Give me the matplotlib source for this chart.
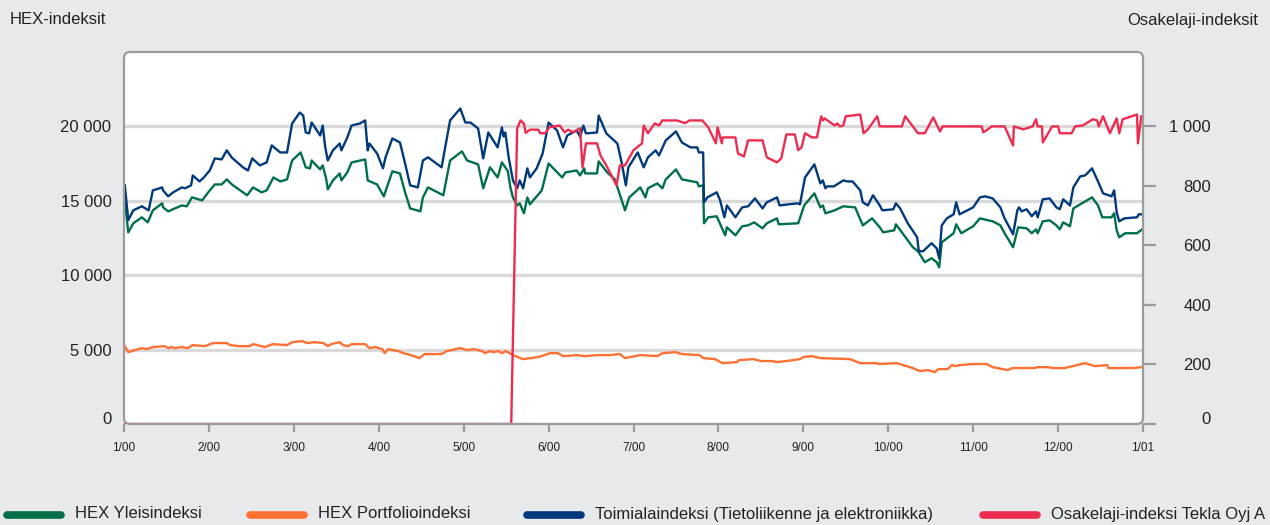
import matplotlib
matplotlib.use("Agg")
import matplotlib.pyplot as plt
from matplotlib.patches import FancyBboxPatch
from matplotlib.lines import Line2D

plt.rcParams['font.family'] = ['Liberation Sans', 'DejaVu Sans']

# x = months since 1 Jan 2000
month_labels = ["1/00", "2/00", "3/00", "4/00", "5/00", "6/00", "7/00",
                "8/00", "9/00", "10/00", "11/00", "12/00", "1/01"]
left_ticks = [0, 5000, 10000, 15000, 20000]
left_labels = ["0", "5 000", "10 000", "15 000", "20 000"]
right_ticks = [0, 200, 400, 600, 800, 1000]
right_labels = ["0", "200", "400", "600", "800", "1 000"]

series_names = ["HEX Yleisindeksi", "HEX Portfolioindeksi",
                "Toimialaindeksi (Tietoliikenne ja elektroniikka)",
                "Osakelaji-indeksi Tekla Oyj A"]
colors = ["#00704a", "#ff7033", "#003a7d", "#ee2c50"]

yleis_m = [0.01, 0.05, 0.11, 0.21, 0.28, 0.34, 0.45, 0.46, 0.52, 0.68, 0.74, 0.80, 0.92, 1.01, 1.07,
           1.15, 1.21, 1.27, 1.45, 1.52, 1.62, 1.68, 1.76, 1.84, 1.92, 1.98, 2.08, 2.14, 2.19, 2.21,
           2.31, 2.34, 2.38, 2.40, 2.46, 2.54, 2.56, 2.63, 2.68, 2.84, 2.87, 2.98, 3.06, 3.16, 3.25,
           3.31, 3.37, 3.49, 3.52, 3.58, 3.76, 3.84, 3.98, 4.04, 4.17, 4.23, 4.31, 4.40, 4.45, 4.49,
           4.52, 4.55, 4.58, 4.63, 4.66, 4.71, 4.75, 4.78, 4.92, 5.00, 5.16, 5.20, 5.33, 5.37, 5.42,
           5.43, 5.57, 5.59, 5.69, 5.78, 5.90, 5.95, 6.08, 6.14, 6.17, 6.28, 6.34, 6.38, 6.50, 6.57,
           6.75, 6.77, 6.82, 6.83, 6.88, 6.98, 7.08, 7.10, 7.20, 7.28, 7.35, 7.42, 7.52, 7.57, 7.69,
           7.71, 7.94, 8.01, 8.13, 8.20, 8.23, 8.26, 8.37, 8.47, 8.61, 8.70, 8.81, 8.90, 8.94, 9.07,
           9.09, 9.29, 9.35, 9.43, 9.51, 9.57, 9.60, 9.63, 9.77, 9.80, 9.86, 10.00, 10.08, 10.23,
           10.32, 10.37, 10.47, 10.53, 10.63, 10.69, 10.74, 10.76, 10.82, 10.90, 10.98, 11.02, 11.06,
           11.14, 11.18, 11.26, 11.40, 11.47, 11.52, 11.63, 11.66, 11.69, 11.72, 11.79, 11.93, 11.99]
yleis = [15030, 12880, 13490, 13890, 13550, 14360, 14830, 14560, 14290, 14690, 14630, 15230, 15030,
         15700, 16100, 16100, 16440, 16100, 15370, 15900, 15570, 15700, 16570, 16300, 16440, 17710,
         18250, 17250, 17180, 17710, 17110, 17380, 16500, 15770, 16370, 16840, 16370, 16910, 17580,
         17780, 16370, 16100, 15300, 16980, 16840, 15570, 14490, 14290, 15230, 15900, 15370, 17710,
         18320, 17710, 17450, 15840, 17250, 16570, 17580, 17250, 17000, 15900, 15230, 14690, 14830,
         14160, 15230, 14760, 15700, 17510, 16570, 16910, 17040, 16710, 17180, 16840, 16840, 17650,
         16910, 16440, 14360, 15230, 15900, 15230, 15840, 16170, 15840, 16440, 17110, 16440, 16240,
         15970, 16040, 13490, 13890, 13960, 12680, 13220, 12680, 13290, 13350, 13550, 13150, 13490,
         13820, 13420, 13490, 14690, 15500, 14560, 14690, 14160, 14360, 14630, 14560, 13350, 13820,
         13220, 12880, 13020, 13420, 11880, 11610, 10870, 11140, 10870, 10530, 12210, 12820, 13420,
         12820, 13290, 13820, 13620, 13350, 12820, 11880, 13220, 13150, 12820, 13080, 12820, 13620,
         13690, 13350, 13080, 13550, 13290, 14490, 14760, 15230, 14690, 13890, 13890, 14160, 13020,
         12550, 12820, 12820, 13080]

portf_m = [0.01, 0.05, 0.21, 0.27, 0.34, 0.48, 0.52, 0.56, 0.60, 0.68, 0.75, 0.81, 0.95, 1.05, 1.21,
           1.25, 1.36, 1.48, 1.52, 1.66, 1.75, 1.92, 1.98, 2.10, 2.16, 2.24, 2.35, 2.40, 2.44, 2.54,
           2.58, 2.64, 2.68, 2.84, 2.89, 2.96, 3.04, 3.07, 3.11, 3.23, 3.29, 3.38, 3.48, 3.54, 3.74,
           3.80, 3.96, 4.04, 4.12, 4.22, 4.25, 4.31, 4.35, 4.41, 4.45, 4.49, 4.52, 4.58, 4.70, 4.88,
           5.02, 5.11, 5.17, 5.33, 5.43, 5.57, 5.72, 5.84, 5.90, 6.08, 6.28, 6.34, 6.49, 6.57, 6.78,
           6.82, 6.96, 7.05, 7.22, 7.24, 7.41, 7.50, 7.64, 7.69, 7.88, 7.96, 8.00, 8.10, 8.20, 8.55,
           8.67, 8.87, 8.88, 9.10, 9.29, 9.37, 9.47, 9.55, 9.59, 9.70, 9.75, 9.79, 9.84, 9.99, 10.16,
           10.23, 10.41, 10.46, 10.73, 10.75, 10.88, 10.94, 11.08, 11.32, 11.43, 11.58, 11.59, 11.88,
           11.99]
portf = [5230, 4830, 5100, 5030, 5170, 5230, 5100, 5170, 5100, 5170, 5100, 5300, 5230, 5440, 5440,
         5300, 5230, 5230, 5370, 5170, 5370, 5300, 5500, 5570, 5440, 5500, 5440, 5230, 5370, 5500,
         5300, 5230, 5370, 5370, 5100, 5170, 5030, 4760, 5030, 4900, 4760, 4630, 4430, 4700, 4700,
         4900, 5100, 4970, 5030, 4900, 4760, 4900, 4830, 4900, 4760, 4900, 4830, 4630, 4360, 4500,
         4760, 4760, 4560, 4630, 4560, 4630, 4630, 4700, 4430, 4630, 4560, 4760, 4830, 4700, 4630,
         4430, 4360, 4090, 4160, 4290, 4360, 4230, 4230, 4160, 4290, 4360, 4500, 4560, 4430, 4360,
         4090, 4090, 4030, 4090, 3760, 3560, 3620, 3490, 3690, 3690, 3960, 3890, 3960, 4030, 4030,
         3820, 3620, 3760, 3760, 3820, 3820, 3760, 3760, 4090, 3890, 3960, 3760, 3760, 3820]

toimiala_m = [0.01, 0.05, 0.11, 0.21, 0.27, 0.29, 0.34, 0.45, 0.46, 0.52, 0.58, 0.68, 0.72, 0.79, 0.81,
              0.89, 0.94, 1.01, 1.07, 1.15, 1.21, 1.27, 1.40, 1.46, 1.51, 1.60, 1.68, 1.74, 1.84, 1.92,
              1.98, 2.07, 2.11, 2.14, 2.18, 2.21, 2.31, 2.34, 2.37, 2.40, 2.46, 2.54, 2.56, 2.63, 2.68,
              2.78, 2.84, 2.87, 2.89, 2.98, 3.05, 3.08, 3.16, 3.25, 3.31, 3.37, 3.46, 3.52, 3.58, 3.74,
              3.84, 3.96, 4.02, 4.08, 4.17, 4.23, 4.29, 4.40, 4.45, 4.47, 4.49, 4.53, 4.58, 4.63, 4.66,
              4.70, 4.75, 4.78, 4.86, 4.93, 5.00, 5.10, 5.17, 5.22, 5.33, 5.37, 5.41, 5.44, 5.57, 5.59,
              5.63, 5.68, 5.81, 5.86, 5.91, 5.94, 6.05, 6.12, 6.17, 6.26, 6.30, 6.38, 6.50, 6.57, 6.67,
              6.75, 6.77, 6.82, 6.83, 6.87, 6.98, 7.02, 7.07, 7.10, 7.20, 7.28, 7.35, 7.43, 7.52, 7.57,
              7.69, 7.72, 7.93, 7.96, 8.02, 8.13, 8.20, 8.23, 8.26, 8.28, 8.36, 8.47, 8.52, 8.58, 8.67,
              8.70, 8.76, 8.82, 8.90, 8.93, 9.06, 9.09, 9.14, 9.23, 9.34, 9.36, 9.41, 9.51, 9.57, 9.60,
              9.63, 9.69, 9.77, 9.80, 9.84, 10.00, 10.08, 10.14, 10.23, 10.32, 10.37, 10.47, 10.52,
              10.54, 10.57, 10.63, 10.69, 10.74, 10.76, 10.82, 10.90, 10.98, 11.02, 11.06, 11.14, 11.18,
              11.26, 11.32, 11.40, 11.47, 11.53, 11.63, 11.66, 11.69, 11.72, 11.78, 11.93, 11.95, 11.99]
toimiala = [16040, 13700, 14360, 14630, 14430, 14360, 15700, 15900, 15700, 15300, 15570, 15900, 15840,
            16040, 16700, 16300, 16570, 17040, 17850, 17780, 18390, 17900, 17250, 17040, 17850, 17380,
            17580, 18720, 18250, 18250, 20200, 20930, 20730, 19590, 19530, 20260, 19390, 20060, 18590,
            17710, 18390, 18850, 18390, 19260, 20060, 20200, 20400, 18390, 18850, 18180, 17180, 17920,
            19190, 18920, 17510, 16040, 15900, 17710, 17920, 17250, 20400, 21200, 20260, 20260, 19860,
            17850, 19590, 18590, 19930, 19320, 19590, 17920, 16370, 15840, 16370, 15840, 17180, 16570,
            17180, 18180, 20260, 19730, 18590, 19390, 19730, 19320, 20060, 19530, 19590, 20730, 20200,
            19530, 18850, 17580, 16040, 17250, 18250, 17250, 17920, 18390, 18050, 19060, 19660, 18920,
            18590, 18590, 18250, 18250, 14900, 15230, 15570, 15030, 13890, 14690, 13890, 14560, 14630,
            15160, 14490, 14900, 15230, 14690, 14830, 14760, 16570, 17450, 16170, 16370, 15840, 15970,
            15970, 16370, 16300, 16300, 15700, 14900, 14690, 15370, 14690, 14360, 14430, 14830, 14490,
            13490, 12550, 11610, 11610, 12150, 11810, 11140, 13350, 13820, 14090, 14900, 14090, 14560,
            15230, 15300, 15160, 14560, 13820, 12750, 14360, 14560, 14290, 14430, 13960, 14290, 13890,
            15100, 15160, 14560, 14430, 15100, 14690, 15900, 16640, 16710, 17180, 16300, 15500, 15300,
            15700, 14230, 13620, 13820, 13890, 14090, 14090]

tekla_m = [0.00, 4.56, 4.63, 4.67, 4.71, 4.73, 4.78, 4.88, 4.90, 4.96, 5.01, 5.13, 5.19, 5.23, 5.29,
           5.37, 5.40, 5.44, 5.57, 5.61, 5.68, 5.80, 5.84, 5.90, 6.00, 6.10, 6.12, 6.17, 6.25, 6.30,
           6.34, 6.51, 6.61, 6.66, 6.81, 6.88, 6.97, 6.99, 7.04, 7.05, 7.20, 7.23, 7.30, 7.35, 7.52,
           7.57, 7.69, 7.74, 7.80, 7.90, 7.94, 7.98, 8.02, 8.10, 8.16, 8.21, 8.23, 8.25, 8.37, 8.40,
           8.43, 8.47, 8.50, 8.67, 8.71, 8.76, 8.87, 8.90, 9.16, 9.20, 9.35, 9.43, 9.53, 9.61, 9.64,
           10.10, 10.12, 10.22, 10.37, 10.47, 10.48, 10.59, 10.70, 10.74, 10.76, 10.81, 10.82, 10.93,
           11.00, 11.02, 11.16, 11.20, 11.29, 11.41, 11.46, 11.48, 11.53, 11.61, 11.69, 11.72, 11.76,
           11.93, 11.94, 11.98]
tekla = [0, 0, 993, 1020, 1009, 978, 989, 989, 977, 977, 997, 1003, 980, 989, 980,
         994, 862, 943, 943, 903, 869, 802, 869, 869, 920, 943, 1003, 977, 1010, 1003,
         1020, 1020, 1011, 1020, 1020, 997, 943, 997, 943, 963, 963, 909, 899, 953, 953,
         896, 879, 893, 973, 973, 920, 930, 977, 963, 963, 1034, 1020, 1027, 1003, 1010,
         1000, 1003, 1034, 1040, 977, 990, 1034, 1000, 1000, 1034, 977, 977, 1030, 983, 1000,
         1000, 980, 1000, 1000, 936, 1000, 990, 1000, 1024, 1000, 1000, 946, 1000,
         1000, 977, 977, 1000, 1003, 1024, 1020, 1000, 1034, 977, 1027, 977, 1024,
         1040, 943, 1034]

grey = "#9b9b9b"
txt = "#222222"
W, H = 12.7, 5.25
fig = plt.figure(figsize=(W, H), dpi=100, facecolor="#e8e9eb")
ax = fig.add_axes([124 / 1270, 1 - 424 / 525, 1019 / 1270, 372 / 525])
ax.patch.set_visible(False)
for s in ax.spines.values():
    s.set_visible(False)

pos = ax.get_position()
box = (pos.x0 * W, pos.y0 * H)
# white rounded plot area, outline drawn again on top of the lines
ax.add_patch(FancyBboxPatch(box, pos.width * W, pos.height * H,
                            boxstyle="round,pad=0,rounding_size=0.06",
                            transform=fig.dpi_scale_trans, facecolor="white",
                            edgecolor="none", zorder=0, clip_on=False))

ax.set_xlim(0, 12)
ax.set_ylim(0, 25000)
ax.set_yticks(left_ticks)
ax.set_yticklabels(left_labels)
ax.set_axisbelow(True)
ax.yaxis.grid(True, color="#d9d9d9", lw=2.4)
ax.tick_params(axis="y", length=0, pad=9, labelsize=12, labelcolor=txt)
ax.set_xticks(range(13))
ax.set_xticklabels(month_labels)
ax.tick_params(axis="x", length=6, width=1.6, color=grey, pad=7, labelsize=8.5,
               labelcolor=txt)
ax.get_yticklabels()[0].set_va("baseline")

ax.plot(portf_m, portf, color=colors[1], lw=1.7, zorder=2)
ax.plot(yleis_m, yleis, color=colors[0], lw=1.7, zorder=3)
ax.plot(toimiala_m, toimiala, color=colors[2], lw=1.7, zorder=4)

ax2 = ax.twinx()
for s in ax2.spines.values():
    s.set_visible(False)
ax2.set_ylim(0, 1250)
ax2.set_yticks(right_ticks)
ax2.set_yticklabels(right_labels)
ax2.tick_params(axis="y", length=9, width=1.6, color=grey, pad=40, labelsize=12,
                labelcolor=txt)
for lab in ax2.get_yticklabels():
    lab.set_ha("right")
ax2.get_yticklabels()[0].set_va("baseline")
ax2.plot(tekla_m, tekla, color=colors[3], lw=1.7, zorder=5)
ax2.add_patch(FancyBboxPatch(box, pos.width * W, pos.height * H,
                             boxstyle="round,pad=0,rounding_size=0.06",
                             transform=fig.dpi_scale_trans, facecolor="none",
                             edgecolor=grey, lw=1.6, zorder=6, clip_on=False))

fig.text(10 / 1270, 1 - 20 / 525, "HEX-indeksit", ha="left", va="center",
         fontsize=12, color=txt)
fig.text(1258 / 1270, 1 - 20 / 525, "Osakelaji-indeksit", ha="right", va="center",
         fontsize=12, color=txt)

# legend along the bottom edge
key_x = [7, 250, 527, 983]
for kx, name, c in zip(key_x, series_names, colors):
    fig.add_artist(Line2D([kx / 1270, (kx + 54) / 1270], [1 - 515 / 525] * 2,
                          transform=fig.transFigure, color=c, lw=5.5,
                          solid_capstyle="round"))
    fig.text((kx + 68) / 1270, 1 - 514 / 525, name, ha="left", va="center",
             fontsize=12, color=txt)

fig.savefig("out.png", dpi=100, facecolor=fig.get_facecolor())
